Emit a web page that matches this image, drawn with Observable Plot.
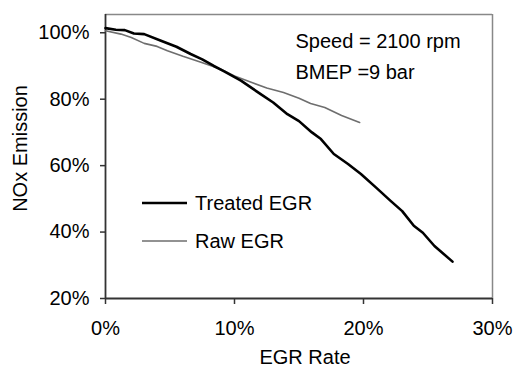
<!DOCTYPE html>
<html>
<head>
<meta charset="utf-8">
<script src="https://cdn.jsdelivr.net/npm/d3@7"></script>
<script src="https://cdn.jsdelivr.net/npm/@observablehq/plot@0.6"></script>
<style>
  html, body { margin: 0; padding: 0; background: #fff; }
</style>
</head>
<body>
<div id="chart"></div>
<script>
// NOx emission (% of baseline) against EGR rate (%)
const treatedRate = [0, 0.8, 1.5, 2.2, 3.0, 4.3, 5.5, 6.6, 7.5, 8.4, 9.2, 10.5, 12.0, 13.0, 14.1, 15.0, 16.0, 16.7, 17.7, 18.8, 19.8, 21.0, 22.1, 23.0, 23.9, 24.6, 25.5, 26.9];
const treatedNox  = [101.4, 100.9, 100.8, 99.8, 99.6, 97.6, 95.8, 93.6, 92.0, 90.0, 88.4, 85.6, 81.6, 79.0, 75.5, 73.4, 70.0, 68.0, 63.5, 60.5, 57.5, 53.3, 49.4, 46.3, 41.9, 39.8, 35.8, 31.1];

const rawRate = [0, 1.2, 2.0, 3.0, 4.0, 4.8, 6.0, 7.4, 8.9, 10.0, 11.5, 12.5, 13.8, 15.0, 15.9, 17.0, 18.3, 19.7];
const rawNox  = [100.6, 99.6, 98.6, 96.8, 95.9, 94.6, 92.9, 91.1, 89.1, 87.0, 84.8, 83.4, 82.0, 80.3, 78.7, 77.5, 75.1, 73.0];

const xTicks = [0, 10, 20, 30];
const yTicks = [20, 40, 60, 80, 100];

const seriesNames = ["Treated EGR", "Raw EGR"];
const seriesColors = ["#000000", "#6e6e6e"];
const seriesWidths = [2.6, 1.6];

const annotation = ["Speed = 2100 rpm", "BMEP =9 bar"];

const treated = treatedRate.map((r, i) => ({rate: r, nox: treatedNox[i]}));
const raw = rawRate.map((r, i) => ({rate: r, nox: rawNox[i]}));

const pct = d => `${d}%`;

// Legend drawn inside the frame, relative to its top-left corner
function legend(index, scales, values, dims) {
  const g = d3.create("svg:g").attr("text-anchor", "start");
  const x0 = dims.marginLeft + 37, y0 = dims.marginTop + 189, step = 38;
  seriesNames.forEach((name, i) => {
    const y = y0 + i * step;
    g.append("line")
      .attr("x1", x0).attr("x2", x0 + 45)
      .attr("y1", y).attr("y2", y)
      .attr("stroke", seriesColors[i])
      .attr("stroke-width", seriesWidths[i]);
    g.append("text")
      .attr("x", x0 + 53).attr("y", y)
      .attr("dy", "0.35em")
      .attr("text-anchor", "start")
      .attr("font-size", 20)
      .attr("fill", "#000")
      .text(name);
  });
  return g.node();
}

const chart = Plot.plot({
  width: 513,
  height: 370,
  marginLeft: 105,
  marginRight: 21,
  marginTop: 14,
  marginBottom: 72,
  style: {fontFamily: "'Liberation Sans', Arial, Helvetica, sans-serif", fontSize: "20px", color: "#000", background: "#fff"},
  x: {domain: [0, 30]},
  y: {domain: [20, 105.5]},
  marks: [
    // frame: light top/right, dark left/bottom axes
    Plot.ruleY([105.5], {stroke: "#888", strokeWidth: 1.5}),
    Plot.ruleX([30], {stroke: "#888", strokeWidth: 1.5}),
    Plot.axisX({ticks: xTicks, tickFormat: pct, tickSize: 6, tickPadding: 16, label: null, stroke: "#333", strokeWidth: 1.5, fontSize: 20}),
    Plot.axisY({ticks: yTicks, tickFormat: pct, tickSize: 5, tickPadding: 11, label: null, stroke: "#333", strokeWidth: 1.5, fontSize: 20}),
    Plot.ruleX([0], {stroke: "#333", strokeWidth: 1.8}),
    Plot.ruleY([20], {stroke: "#333", strokeWidth: 1.8}),
    Plot.line(raw, {x: "rate", y: "nox", stroke: seriesColors[1], strokeWidth: seriesWidths[1]}),
    Plot.line(treated, {x: "rate", y: "nox", stroke: seriesColors[0], strokeWidth: seriesWidths[0]}),
    Plot.text([annotation.join("\n")], {frameAnchor: "top-left", dx: 190, dy: 11, lineHeight: 1.55, textAnchor: "start", fontSize: 20, fill: "#000"}),
    Plot.text(["EGR Rate"], {frameAnchor: "bottom", dx: 6, dy: 65, fontSize: 20, fill: "#000"}),
    Plot.text(["NOx Emission"], {frameAnchor: "left", dx: -85, dy: -8, rotate: -90, textAnchor: "middle", lineAnchor: "middle", fontSize: 20, fill: "#000"}),
    legend
  ]
});

document.getElementById("chart").append(chart);
</script>
</body>
</html>
